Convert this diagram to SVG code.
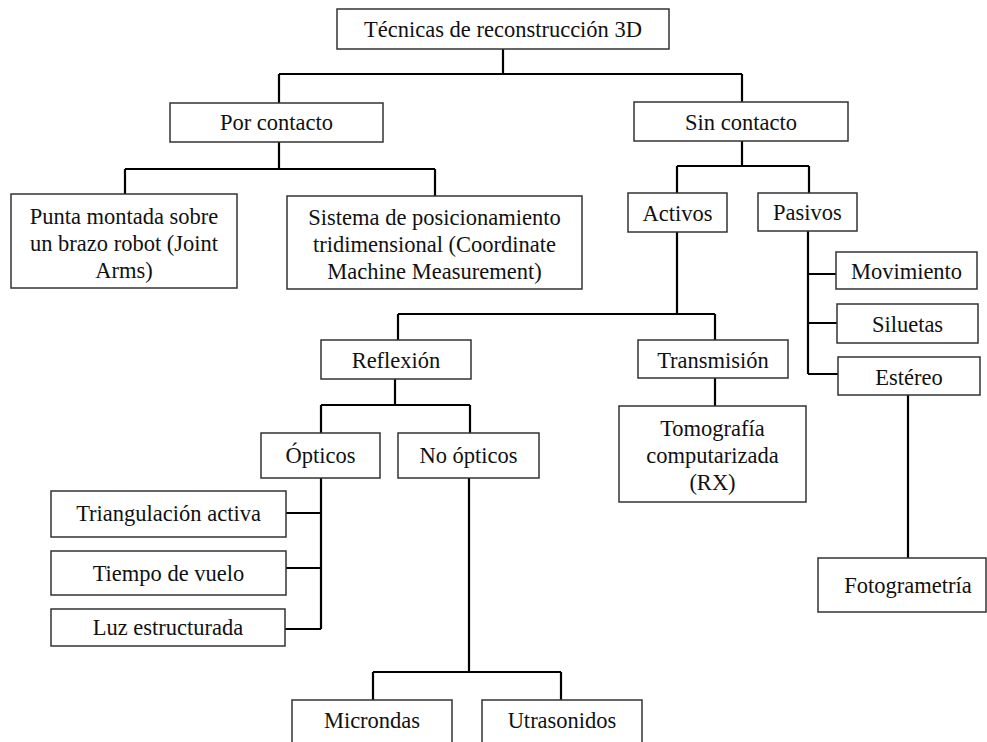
<svg xmlns="http://www.w3.org/2000/svg" width="987" height="742" viewBox="0 0 987 742">
<style>
.b{fill:#fff;stroke:#333;stroke-width:1.5}
.t{font-family:"Liberation Serif","Times New Roman",serif;font-size:22.5px;fill:#111;text-anchor:middle}
.c{fill:none;stroke:#000;stroke-width:2.2;stroke-linejoin:miter}
</style>
<rect width="987" height="742" fill="#fff"/>
<g id="connectors">
<path class="c" d="M503 49V74M279 74H742M279 74V103M742 74V102"/>
<path class="c" d="M279 142V169M125 169H435M125 169V194M435 169V196"/>
<path class="c" d="M742 141V166M677 166H809M677 166V193M809 166V193"/>
<path class="c" d="M677 232V314M398 314H715M398 314V340M715 314V340"/>
<path class="c" d="M715 378V406"/>
<path class="c" d="M808 231V374M808 274H836M808 323H837M808 374H838"/>
<path class="c" d="M908 395V558"/>
<path class="c" d="M395 379V405M321 405H470M321 405V433M470 405V433"/>
<path class="c" d="M321 478V629M286 513H321M286 568H321M285 629H321"/>
<path class="c" d="M469 478V672M373 672H561M373 672V700M561 672V700"/>
</g>
<g id="n-root"><rect class="b" x="337" y="9" width="332" height="40"/><text class="t" x="503" y="36.5">Técnicas de reconstrucción 3D</text></g>
<g id="n-por"><rect class="b" x="170" y="103" width="213" height="39"/><text class="t" x="276.5" y="130">Por contacto</text></g>
<g id="n-sin"><rect class="b" x="634" y="102" width="214" height="39"/><text class="t" x="741" y="130">Sin contacto</text></g>
<g id="n-punta"><rect class="b" x="11" y="194" width="226" height="94"/><text class="t" x="124" y="224">Punta montada sobre</text><text class="t" x="124" y="251">un brazo robot (Joint</text><text class="t" x="124" y="278">Arms)</text></g>
<g id="n-sistema"><rect class="b" x="287" y="196" width="295" height="93"/><text class="t" x="434.5" y="225">Sistema de posicionamiento</text><text class="t" x="434.5" y="252">tridimensional (Coordinate</text><text class="t" x="434.5" y="279">Machine Measurement)</text></g>
<g id="n-activos"><rect class="b" x="628" y="193" width="99" height="39"/><text class="t" x="677.5" y="220.5">Activos</text></g>
<g id="n-pasivos"><rect class="b" x="758" y="193" width="99" height="38"/><text class="t" x="807.5" y="220">Pasivos</text></g>
<g id="n-movimiento"><rect class="b" x="836" y="252" width="141" height="37"/><text class="t" x="906.5" y="279">Movimiento</text></g>
<g id="n-siluetas"><rect class="b" x="837" y="304" width="141" height="39"/><text class="t" x="907.5" y="332">Siluetas</text></g>
<g id="n-estereo"><rect class="b" x="838" y="357" width="142" height="38"/><text class="t" x="909" y="384.5">Estéreo</text></g>
<g id="n-reflexion"><rect class="b" x="321" y="340" width="150" height="39"/><text class="t" x="396" y="368">Reflexión</text></g>
<g id="n-transmision"><rect class="b" x="638" y="340" width="150" height="38"/><text class="t" x="713" y="367.5">Transmisión</text></g>
<g id="n-tomografia"><rect class="b" x="619" y="406" width="187" height="96"/><text class="t" x="712.5" y="436">Tomografía</text><text class="t" x="712.5" y="463">computarizada</text><text class="t" x="712.5" y="490">(RX)</text></g>
<g id="n-opticos"><rect class="b" x="261" y="433" width="119" height="45"/><text class="t" x="320.5" y="463">Ópticos</text></g>
<g id="n-noopticos"><rect class="b" x="398" y="433" width="141" height="45"/><text class="t" x="468.5" y="463">No ópticos</text></g>
<g id="n-triangulacion"><rect class="b" x="51" y="491" width="235" height="46"/><text class="t" x="168.5" y="521">Triangulación activa</text></g>
<g id="n-tiempo"><rect class="b" x="51" y="551" width="235" height="44"/><text class="t" x="168.5" y="580.5">Tiempo de vuelo</text></g>
<g id="n-luz"><rect class="b" x="51" y="609" width="234" height="37"/><text class="t" x="168" y="635">Luz estructurada</text></g>
<g id="n-fotogrametria"><rect class="b" x="818" y="558" width="168" height="54"/><text class="t" x="908" y="593">Fotogrametría</text></g>
<g id="n-microndas"><rect class="b" x="292" y="700" width="160" height="60"/><text class="t" x="372" y="728">Microndas</text></g>
<g id="n-utrasonidos"><rect class="b" x="482" y="700" width="160" height="60"/><text class="t" x="562" y="728">Utrasonidos</text></g>
</svg>
